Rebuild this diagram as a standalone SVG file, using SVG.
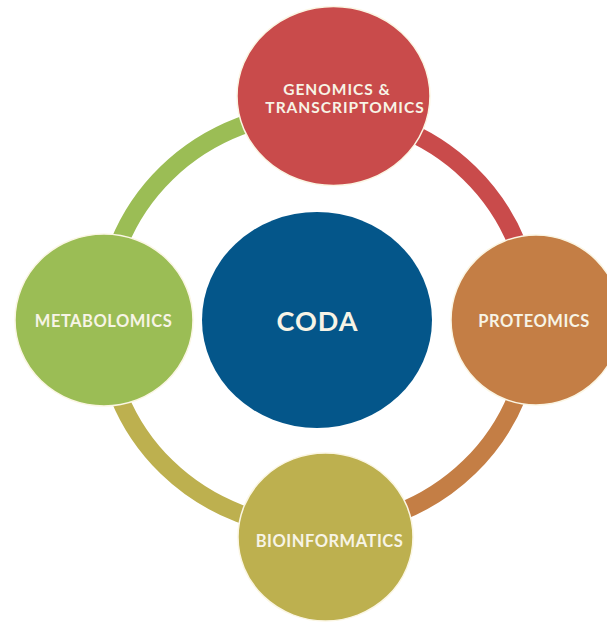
<svg xmlns="http://www.w3.org/2000/svg" width="607" height="623" viewBox="0 0 607 623">
  <style>
    .ring { fill: none; stroke-width: 18; }
    .node { stroke: #fbf6e4; stroke-width: 1.5; }
    .label { font-family: Lato, "Open Sans", "Liberation Sans", sans-serif; font-weight: bold; fill: #f7f4e6; text-anchor: middle; }
    .small { font-size: 16.5px; letter-spacing: 0.5px; }
    .pair { font-size: 15.5px; letter-spacing: 1px; }
    .big { font-size: 27px; letter-spacing: 1px; }
  </style>
  <rect width="607" height="623" fill="#ffffff"/>

  <!-- ring segments joining the outer nodes -->
  <g id="connectors">
    <path class="ring" stroke="#9bbd55" d="M104,320 A214,208 0 0 1 318,112"/>
    <path class="ring" stroke="#c94b4b" d="M318,112 A214,208 0 0 1 532,320"/>
    <path class="ring" stroke="#c47e45" d="M532,320 A214,208 0 0 1 318,528"/>
    <path class="ring" stroke="#bdb04f" d="M318,528 A214,208 0 0 1 104,320"/>
  </g>

  <g id="genomics">
    <ellipse class="node" cx="333.5" cy="96" rx="96.5" ry="89.5" fill="#c94b4b"/>
    <text class="label pair" x="337" y="95">GENOMICS &amp;</text>
    <text class="label pair" x="345" y="113">TRANSCRIPTOMICS</text>
  </g>

  <g id="metabolomics">
    <ellipse class="node" cx="104" cy="320" rx="89" ry="86" fill="#9bbd55"/>
    <text class="label small" x="103.5" y="327">METABOLOMICS</text>
  </g>

  <g id="proteomics">
    <ellipse class="node" cx="536" cy="320" rx="85" ry="85" fill="#c47e45"/>
    <text class="label small" x="534" y="327">PROTEOMICS</text>
  </g>

  <g id="bioinformatics">
    <ellipse class="node" cx="325.5" cy="537" rx="87.5" ry="84" fill="#bdb04f"/>
    <text class="label small" x="329.5" y="547">BIOINFORMATICS</text>
  </g>

  <g id="coda">
    <ellipse cx="317" cy="320" rx="115" ry="108" fill="#04568a"/>
    <text class="label big" x="317.5" y="331">CODA</text>
  </g>
</svg>
